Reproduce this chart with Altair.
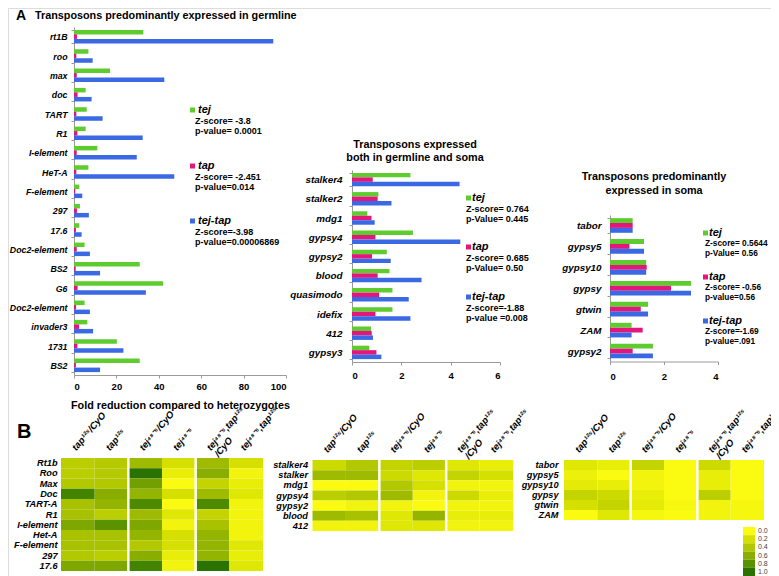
import altair as alt
import pandas as pd

OFF = 8          # page margin: page coordinates -> plot coordinates
W, H = 763, 568
FONT = "Liberation Sans"


def px(v):
    return v - OFF


SERIES = ["tej", "tap", "tej-tap"]
SERIES_COLORS = ["#5ecb2e", "#e3177b", "#3b68e3"]

# ---------------- A1: germline ----------------
g_names = ["rt1B", "roo", "max", "doc", "TART", "R1", "I-element", "HeT-A", "F-element",
           "297", "17.6", "Doc2-element", "BS2", "G6", "Doc2-element", "invader3", "1731", "BS2"]
g_tej = [32.7, 6.8, 17.0, 5.5, 6.0, 5.5, 11.0, 6.8, 2.5, 2.8, 2.5, 5.0, 31.0, 42.0, 5.0, 6.3, 20.2, 31.0]
g_tap = [1.4, 1.1, 1.3, 1.7, 1.1, 1.6, 1.3, 1.1, 0.6, 1.4, 0.9, 1.3, 0.8, 1.7, 1.0, 2.4, 1.6, 0.9]
g_tejtap = [94.0, 8.8, 42.6, 8.3, 13.5, 32.4, 29.6, 47.3, 3.9, 7.0, 3.6, 7.5, 12.3, 33.9, 7.5, 9.0, 23.3, 12.3]
g_stats = [("tej", "Z-score= -3.8", "p-value= 0.0001"),
           ("tap", "Z-score= -2.451", "p-value=0.014"),
           ("tej-tap", "Z-score=-3.98", "p-value=0.00006869")]

# ---------------- A2: both ----------------
b_names = ["stalker4", "stalker2", "mdg1", "gypsy4", "gypsy2", "blood", "quasimodo", "idefix", "412", "gypsy3"]
b_tej = [2.37, 1.07, 0.62, 2.47, 1.41, 1.52, 1.64, 1.64, 0.77, 0.70]
b_tap = [0.84, 1.04, 0.79, 0.95, 0.81, 1.04, 1.10, 0.95, 0.80, 0.99]
b_tejtap = [4.36, 1.60, 0.92, 4.39, 1.57, 2.82, 2.30, 2.37, 0.85, 1.19]
b_stats = [("tej", "Z-score= 0.764", "p-Value= 0.445"),
           ("tap", "Z-score= 0.685", "p-Value= 0.50"),
           ("tej-tap", "Z-score=-1.88", "p-value =0.008")]

# ---------------- A3: soma ----------------
s_names = ["tabor", "gypsy5", "gypsy10", "gypsy", "gtwin", "ZAM", "gypsy2"]
s_tej = [0.84, 1.26, 1.34, 3.00, 1.41, 0.80, 1.59]
s_tap = [0.84, 0.72, 1.36, 2.26, 1.14, 1.21, 0.84]
s_tejtap = [0.84, 1.26, 1.34, 3.00, 1.41, 0.80, 1.59]
s_stats = [("tej", "Z-score= 0.5644", "p-Value= 0.56"),
           ("tap", "Z-score= -0.56", "p-value=0.56"),
           ("tej-tap", "Z-score=-1.69", "p-value=.091")]

# ---------------- B: heatmaps ----------------
h_cols = ["tap¹²⁵/CyO", "tap¹²⁵", "tej⁴⁸⁻⁵/CyO", "tej⁴⁸⁻⁵", "tej⁴⁸⁻⁵,tap¹²⁵\n/CyO", "tej⁴⁸⁻⁵,tap¹²⁵"]
h_group_starts = ["tej⁴⁸⁻⁵/CyO", "tej⁴⁸⁻⁵,tap¹²⁵\n/CyO"]

h1_rows = ["Rt1b", "Roo", "Max", "Doc", "TART-A", "R1", "I-element", "Het-A", "F-element", "297", "17.6"]
h1_vals = [
    [0.35, 0.38, 0.50, 0.20, 0.50, 0.20],
    [0.35, 0.38, 1.00, 0.10, 0.60, 0.05],
    [0.40, 0.40, 0.70, 0.00, 0.30, 0.10],
    [0.90, 0.60, 0.55, 0.20, 0.50, 0.15],
    [0.45, 0.55, 0.85, 0.00, 0.85, 0.05],
    [0.45, 0.35, 0.50, 0.15, 0.30, 0.05],
    [0.65, 0.80, 0.65, 0.05, 0.45, 0.05],
    [0.45, 0.45, 0.55, 0.20, 0.55, 0.05],
    [0.45, 0.45, 0.40, 0.20, 0.55, 0.15],
    [0.40, 0.35, 0.60, 0.10, 0.55, 0.10],
    [0.65, 0.65, 0.90, 0.05, 1.00, 0.15],
]
h2_rows = ["stalker4", "stalker", "mdg1", "gypsy4", "gypsy2", "blood", "412"]
h2_vals = [
    [0.25, 0.40, 0.30, 0.35, 0.15, 0.10],
    [0.50, 0.50, 0.25, 0.15, 0.30, 0.20],
    [0.00, 0.00, 0.40, 0.20, 0.05, 0.05],
    [0.35, 0.40, 0.50, 0.05, 0.25, 0.10],
    [0.00, 0.05, 0.05, 0.00, 0.05, 0.05],
    [0.50, 0.45, 0.15, 0.55, 0.10, 0.10],
    [0.05, 0.05, 0.15, 0.15, 0.05, 0.05],
]
h3_rows = ["tabor", "gypsy5", "gypsy10", "gypsy", "gtwin", "ZAM"]
h3_vals = [
    [0.15, 0.10, 0.30, 0.00, 0.25, 0.00],
    [0.08, 0.00, 0.05, 0.00, 0.10, 0.00],
    [0.12, 0.10, 0.05, 0.00, 0.10, 0.00],
    [0.30, 0.25, 0.10, 0.00, 0.35, 0.00],
    [0.20, 0.30, 0.12, 0.02, 0.05, 0.03],
    [0.00, 0.15, 0.03, 0.00, 0.05, 0.03],
]
leg_levels = [0.0, 0.2, 0.4, 0.6, 0.8, 1.0]
leg_labels = ["0.0", "0.2", "0.4", "0.6", "0.8", "1.0"]
HEAT_COLORS = ["#fbfb12", "#d6e000", "#b2c800", "#8aae00", "#5a9200", "#2a7300"]
HEAT_SCALE = alt.Scale(domain=leg_levels, range=HEAT_COLORS, interpolate="rgb")

ONE = pd.DataFrame({"_": [0]})


def label(text, x, y, size=9, weight="bold", style="normal", align="left",
          baseline="middle", color="black"):
    return alt.Chart(ONE).mark_text(
        text=text, fontSize=size, fontWeight=weight, fontStyle=style, align=align,
        baseline=baseline, color=color, font=FONT,
    ).encode(x=alt.value(px(x)), y=alt.value(px(y)))


def swatch(color, x, y, s=5):
    return alt.Chart(ONE).mark_rect(color=color).encode(
        x=alt.value(px(x)), x2=alt.value(px(x + s)),
        y=alt.value(px(y)), y2=alt.value(px(y + s)))


def bar_panel(names, tej, tap, tt, xdom, xticks, x0, x1, y0, y1, lab_pad, xlab_pad,
              xtitle=None, ylab_size=9.8):
    keys = [f"{i:02d}|{n}" for i, n in enumerate(names)]
    df = pd.DataFrame({
        "key": keys * 3,
        "series": [s for s in SERIES for _ in keys],
        "value": list(tej) + list(tap) + list(tt),
    })
    xaxis = dict(orient="bottom", offset=px(y1) - H, values=xticks, grid=False, tickSize=3,
                 tickColor="#9a9a9a", domainColor="#9a9a9a", labelFontWeight="bold",
                 labelFontSize=9.5, labelPadding=xlab_pad, labelColor="black", labelFont=FONT)
    if xtitle:
        xaxis.update(title=xtitle, titleFontWeight="bold", titleFontSize=10.8, titlePadding=9,
                     titleColor="black", titleFont=FONT)
    else:
        xaxis["title"] = None
    return alt.Chart(df).mark_bar().encode(
        x=alt.X("value:Q", scale=alt.Scale(domain=xdom, range=[px(x0), px(x1)], nice=False),
                axis=alt.Axis(**xaxis)),
        y=alt.Y("key:N", sort=keys,
                scale=alt.Scale(range=[px(y0), px(y1)], paddingInner=0.3, paddingOuter=0.15),
                axis=alt.Axis(orient="left", offset=-px(x0), title=None,
                              labelExpr="split(datum.label, '|')[1]", labelFontWeight="bold",
                              labelFontStyle="italic", labelFontSize=ylab_size, labelColor="black",
                              labelFont=FONT, labelPadding=lab_pad, tickBand="extent", tickSize=3,
                              tickColor="#9a9a9a", domainColor="#9a9a9a", grid=False,
                              labelOverlap=False)),
        yOffset=alt.YOffset("series:N", sort=SERIES),
        color=alt.Color("series:N", sort=SERIES,
                        scale=alt.Scale(domain=SERIES, range=SERIES_COLORS), legend=None),
    )


def legend_block(stats, sq_x, name_x, text_x, name_ys, z_dy, p_dy, size=9):
    out = []
    for (name, z, p), c, ny in zip(stats, SERIES_COLORS, name_ys):
        out.append(swatch(c, sq_x, ny - 2.5))
        out.append(label(name, name_x, ny, size=11, style="italic"))
        out.append(label(z, text_x, ny + z_dy, size=size))
        out.append(label(p, text_x, ny + p_dy, size=size))
    return out


def heat_panel(rows, vals, x0, x1, y0, y1, lab_pad):
    df = pd.DataFrame([{"row": r, "col": c, "v": v}
                       for r, rv in zip(rows, vals) for c, v in zip(h_cols, rv)])
    xscale = alt.Scale(range=[px(x0), px(x1)], paddingInner=0, paddingOuter=0)
    xaxis = alt.Axis(orient="top", offset=-px(y0), labelAngle=-50, labelAlign="left",
                     labelBaseline="bottom", labelExpr="split(datum.label, '\\n')",
                     domain=False, ticks=False, labelPadding=6, title=None,
                     labelFontWeight="bold", labelFontStyle="italic", labelFontSize=9.5,
                     labelColor="black", labelFont=FONT, labelOverlap=False,
                     labelLineHeight=10)
    rect = alt.Chart(df).mark_rect().encode(
        x=alt.X("col:N", sort=h_cols, scale=xscale, axis=xaxis),
        y=alt.Y("row:N", sort=rows,
                scale=alt.Scale(range=[px(y0), px(y1)], paddingInner=0, paddingOuter=0),
                axis=alt.Axis(orient="left", offset=-px(x0), domain=False, ticks=False,
                              labelPadding=lab_pad, title=None, labelFontWeight="bold",
                              labelFontStyle="italic", labelFontSize=9.2, labelColor="black",
                              labelFont=FONT, labelOverlap=False)),
        color=alt.Color("v:Q", scale=HEAT_SCALE, legend=None),
    )
    gaps = alt.Chart(pd.DataFrame({"col": h_group_starts})).mark_rule(
        color="white", strokeWidth=2.5).encode(
        x=alt.X("col:N", sort=h_cols, bandPosition=0, scale=xscale, axis=xaxis),
        y=alt.value(px(y0)), y2=alt.value(px(y1)))
    return alt.layer(rect, gaps)


def heat_legend(x0, x1, y0, y1):
    ldf = pd.DataFrame({"lev": leg_levels, "lab": leg_labels})
    yenc = alt.Y("lab:O", sort=leg_labels,
                 scale=alt.Scale(range=[px(y0), px(y1)], paddingInner=0, paddingOuter=0), axis=None)
    r = alt.Chart(ldf).mark_rect().encode(
        y=yenc, x=alt.value(px(x0)), x2=alt.value(px(x1)),
        color=alt.Color("lev:Q", scale=HEAT_SCALE, legend=None))
    t = alt.Chart(ldf).mark_text(align="left", baseline="middle", fontSize=7, color="#444",
                                 font=FONT).encode(
        y=yenc, x=alt.value(px(x1 + 3)), text="lab:N")
    return alt.layer(r, t)


layers = []
# panel labels / titles
layers.append(label("A", 16, 15.5, size=14))
layers.append(label("Transposons predominantly expressed in germline", 35, 16, size=10.8))
layers.append(label("Transposons expressed", 415, 145, size=10.8, align="center"))
layers.append(label("both in germline and soma", 415, 158, size=10.8, align="center"))
layers.append(label("Transposons predominantly", 654, 177, size=10.8, align="center"))
layers.append(label("expressed in soma", 654, 190.5, size=10.8, align="center"))
layers.append(label("B", 17, 432, size=20))

# bar panels
layers.append(bar_panel(g_names, g_tej, g_tap, g_tejtap, [0, 100], [0, 20, 40, 60, 80, 100],
                        74, 286, 27, 375, 4, 3, "Fold reduction compared to heterozygotes",
                        ylab_size=8.8))
layers.append(bar_panel(b_names, b_tej, b_tap, b_tejtap, [0, 6], [0, 2, 4, 6],
                        352, 500, 170, 362, 7, 5))
layers.append(bar_panel(s_names, s_tej, s_tap, s_tejtap, [0, 4], [0, 2, 4],
                        610, 718, 215, 361.5, 6, 7))

layers += legend_block(g_stats, 190, 198, 195, [110, 166, 221], 11, 20.5)
layers += legend_block(b_stats, 466, 472, 466, [198, 247, 297], 11, 21)
layers += legend_block(s_stats, 703, 709, 705, [233, 277, 321], 10.5, 20.5, size=8.3)

# heatmaps
layers.append(heat_panel(h1_rows, h1_vals, 61, 263, 458, 571, 4))
layers.append(heat_panel(h2_rows, h2_vals, 312.5, 513, 460, 531, 5))
layers.append(heat_panel(h3_rows, h3_vals, 564, 764, 460, 520, 6))
layers.append(heat_legend(743, 755, 527, 576))

chart = alt.layer(*layers).resolve_scale(
    x="independent", y="independent", color="independent", yOffset="independent"
).resolve_axis(
    x="independent", y="independent"
).properties(
    width=W, height=H, padding=0, autosize=alt.AutoSizeParams(type="none")
).configure_view(stroke=None).configure(font=FONT)

chart.save("out.html", embed_options={"renderer": "svg", "actions": False})
